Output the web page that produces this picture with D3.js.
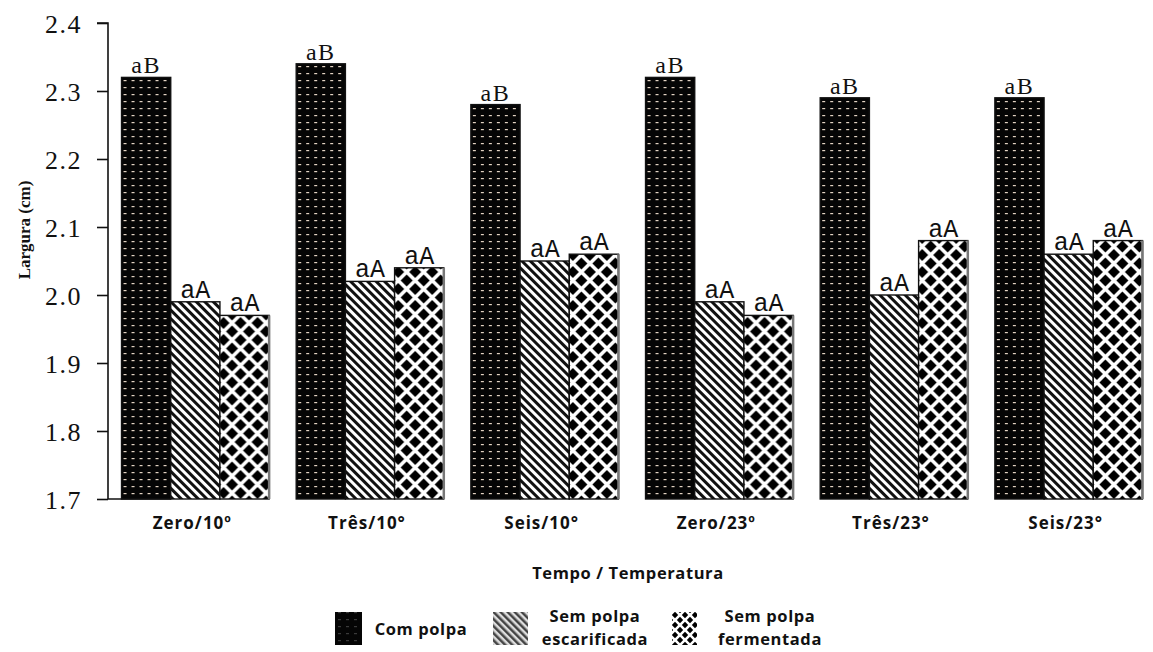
<!DOCTYPE html>
<html lang="pt">
<head>
    <meta charset="UTF-8">
    <title>Largura (cm)</title>
    <script src="https://d3js.org/d3.v7.min.js"></script>
    <style>
        body { margin: 0; background: #fff; }
        svg { display: block; }
        .tick-y { font-family: "Liberation Serif", serif; font-size: 26px; letter-spacing: 1.5px; fill: #111; }
        .cat { font-family: "Open Sans", sans-serif; font-weight: bold; font-size: 17px; letter-spacing: 1px; fill: #111; }
        .leg { font-family: "Open Sans", sans-serif; font-weight: bold; font-size: 16.5px; letter-spacing: 0.6px; fill: #111; }
        .ylabel { font-family: "Liberation Serif", serif; font-weight: bold; font-size: 17px; fill: #111; }
        .lbl-b { font-family: "Liberation Serif", serif; font-size: 24px; letter-spacing: 1.5px; fill: #111; }
        .lbl-a { font-family: "Liberation Mono", monospace; font-size: 25px; fill: #111; }
    </style>
</head>
<body>
<svg id="chart" width="1153" height="652"></svg>
<script>
    var categories = ["Zero/10º", "Três/10°", "Seis/10°", "Zero/23º", "Três/23°", "Seis/23°"];
    var seriesNames = ["Com polpa", "Sem polpa escarificada", "Sem polpa fermentada"];
    var comPolpa = [2.32, 2.34, 2.28, 2.32, 2.29, 2.29];
    var escarificada = [1.99, 2.02, 2.05, 1.99, 2.00, 2.06];
    var fermentada = [1.97, 2.04, 2.06, 1.97, 2.08, 2.08];
    var letras = [
        ["aB", "aB", "aB", "aB", "aB", "aB"],
        ["aA", "aA", "aA", "aA", "aA", "aA"],
        ["aA", "aA", "aA", "aA", "aA", "aA"]
    ];
    var yTicks = [1.7, 1.8, 1.9, 2.0, 2.1, 2.2, 2.3, 2.4];

    var series = [comPolpa, escarificada, fermentada];

    var svg = d3.select("#chart");
    var defs = svg.append("defs");

    // black with light dashes
    function dashes(id, dash) {
        var p = defs.append("pattern").attr("id", id)
            .attr("patternUnits", "userSpaceOnUse").attr("width", 8).attr("height", 7);
        p.append("rect").attr("width", 8).attr("height", 7).attr("fill", "#050505");
        p.append("rect").attr("x", 2).attr("y", 3).attr("width", 3).attr("height", 1.2).attr("fill", dash);
    }
    dashes("pat0", "#e3d3c3");
    dashes("leg0", "#3a3a3a");

    // diagonal stripes, top-left to bottom-right
    function stripes(id, s, bg, fg) {
        var p = defs.append("pattern").attr("id", id)
            .attr("patternUnits", "userSpaceOnUse").attr("width", s).attr("height", s)
            .attr("patternTransform", "rotate(-45)");
        p.append("rect").attr("width", s).attr("height", s).attr("fill", bg);
        p.append("rect").attr("width", s / 2).attr("height", s).attr("fill", fg);
    }
    stripes("pat1", 6, "#fff", "#111");
    stripes("leg1", 5, "#ddd", "#444");

    // diamonds
    function diamonds(id, s, r) {
        var p = defs.append("pattern").attr("id", id)
            .attr("patternUnits", "userSpaceOnUse").attr("width", s).attr("height", s);
        p.append("rect").attr("width", s).attr("height", s).attr("fill", "#fff");
        [[0, 0], [s, 0], [0, s], [s, s], [s / 2, s / 2]].forEach(function(c) {
            p.append("path")
                .attr("d", "M" + c[0] + "," + (c[1] - r) + "L" + (c[0] + r) + "," + c[1] +
                    "L" + c[0] + "," + (c[1] + r) + "L" + (c[0] - r) + "," + c[1] + "Z")
                .attr("fill", "#000");
        });
    }
    diamonds("pat2", 17, 6);
    diamonds("leg2", 10, 3.2);

    var plotLeft = 108, plotRight = 1156, plotTop = 23, plotBottom = 499;

    var y = d3.scaleLinear().domain([1.7, 2.4]).range([plotBottom, plotTop]);
    var x0 = d3.scaleBand().domain(categories).range([plotLeft, plotRight])
        .paddingInner(0.155).paddingOuter(0.0775);
    var x1 = d3.scaleBand().domain(d3.range(series.length)).range([0, x0.bandwidth()]);

    // y axis
    var yAxis = d3.axisLeft(y).tickValues(yTicks).tickSize(11).tickPadding(15)
        .tickFormat(d3.format(".1f"));
    var gy = svg.append("g").attr("transform", "translate(" + plotLeft + ",0)").call(yAxis);
    gy.select(".domain").attr("stroke", "#111").attr("stroke-width", 1.6)
        .attr("d", "M-11," + plotTop + "H0V" + plotBottom);
    gy.selectAll(".tick line").attr("stroke", "#111").attr("stroke-width", 1.6);
    gy.selectAll(".tick text").attr("class", "tick-y").attr("dy", "0.35em");

    // short baseline under first bar
    svg.append("line")
        .attr("x1", plotLeft).attr("x2", x0(categories[0]) + x1(0) + x1.bandwidth())
        .attr("y1", y(1.7)).attr("y2", y(1.7))
        .attr("stroke", "#111").attr("stroke-width", 1.6);

    var groups = svg.selectAll(".grp").data(categories).enter().append("g")
        .attr("transform", function(d) { return "translate(" + x0(d) + ",0)"; });

    series.forEach(function(vals, si) {
        groups.append("rect")
            .attr("x", x1(si))
            .attr("y", function(d, i) { return y(vals[i]); })
            .attr("width", x1.bandwidth())
            .attr("height", function(d, i) { return y(1.7) - y(vals[i]); })
            .attr("fill", "url(#pat" + si + ")")
            .attr("stroke", "#111").attr("stroke-width", 1.4);
        if (si === 2) {
            groups.append("line")
                .attr("x1", x1(si) + x1.bandwidth()).attr("x2", x1(si) + x1.bandwidth())
                .attr("y1", function(d, i) { return y(vals[i]); })
                .attr("y2", y(1.7))
                .attr("stroke", "#777").attr("stroke-width", 2.5);
        }
        groups.append("text")
            .attr("class", si === 0 ? "lbl-b" : "lbl-a")
            .attr("x", x1(si) + x1.bandwidth() / 2)
            .attr("y", function(d, i) { return y(vals[i]) - 4; })
            .attr("text-anchor", "middle")
            .text(function(d, i) { return letras[si][i]; });
    });

    // category labels
    svg.selectAll(".cat").data(categories).enter().append("text")
        .attr("class", "cat")
        .attr("x", function(d) { return x0(d) + x0.bandwidth() / 2 - 3; })
        .attr("y", 529)
        .attr("text-anchor", "middle")
        .text(function(d) { return d; });

    svg.append("text").attr("class", "leg")
        .attr("x", 628).attr("y", 579).attr("text-anchor", "middle")
        .text("Tempo / Temperatura");

    svg.append("text").attr("class", "ylabel")
        .attr("transform", "translate(30,230) rotate(-90)")
        .attr("text-anchor", "middle")
        .text("Largura (cm)");

    // legend
    var legend = [
        { fill: "url(#leg0)", x: 335, w: 27, lines: ["Com polpa"], tx: 421 },
        { fill: "url(#leg1)", x: 493, w: 35, lines: ["Sem polpa", "escarificada"], tx: 595 },
        { fill: "url(#leg2)", x: 672, w: 25, lines: ["Sem polpa", "fermentada"], tx: 770 }
    ];
    legend.forEach(function(l) {
        svg.append("rect").attr("x", l.x).attr("y", 612).attr("width", l.w).attr("height", 33)
            .attr("fill", l.fill);
        l.lines.forEach(function(t, j) {
            svg.append("text").attr("class", "leg")
                .attr("x", l.tx)
                .attr("y", l.lines.length === 1 ? 635 : 622 + j * 23)
                .attr("text-anchor", "middle")
                .text(t);
        });
    });
</script>
</body>
</html>
